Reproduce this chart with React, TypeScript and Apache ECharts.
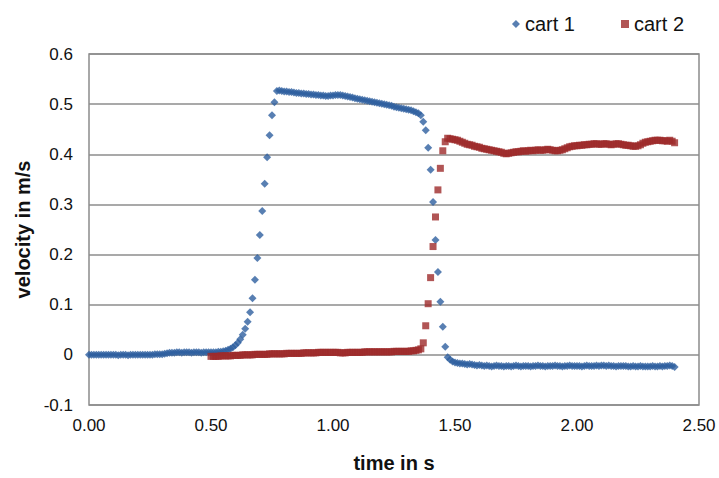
import React, { useEffect, useRef } from "react";
import * as echarts from "echarts";

const sampleStep = 0.01;
const cart1Start = 0.0;
const cart2Start = 0.5;

const cart1Values = [
  0.000, 0.000, 0.000, 0.000, 0.000, 0.000, 0.000, 0.000, 0.000, 0.000,
  0.000, 0.000, -0.001, 0.000, 0.000, 0.000, -0.001, 0.000, 0.000, 0.000,
  0.000, 0.000, 0.000, 0.000, 0.000, 0.000, 0.000, 0.001, 0.001, 0.001,
  0.001, 0.002, 0.003, 0.004, 0.004, 0.004, 0.005, 0.005, 0.004, 0.005,
  0.005, 0.005, 0.004, 0.005, 0.005, 0.005, 0.004, 0.005, 0.005, 0.005,
  0.005, 0.005, 0.005, 0.006, 0.006, 0.007, 0.008, 0.010, 0.012, 0.015,
  0.019, 0.024, 0.031, 0.040, 0.052, 0.066, 0.085, 0.113, 0.150, 0.193,
  0.239, 0.287, 0.341, 0.394, 0.438, 0.478, 0.504, 0.526, 0.527, 0.526,
  0.525, 0.525, 0.524, 0.524, 0.523, 0.522, 0.522, 0.521, 0.521, 0.520,
  0.520, 0.519, 0.519, 0.518, 0.518, 0.517, 0.517, 0.516, 0.516, 0.517,
  0.517, 0.518, 0.518, 0.518, 0.517, 0.516, 0.515, 0.514, 0.513, 0.512,
  0.511, 0.510, 0.509, 0.508, 0.507, 0.506, 0.505, 0.504, 0.503, 0.502,
  0.501, 0.500, 0.499, 0.498, 0.497, 0.495, 0.494, 0.493, 0.492, 0.491,
  0.490, 0.489, 0.488, 0.486, 0.484, 0.482, 0.478, 0.465, 0.448, 0.413,
  0.369, 0.305, 0.229, 0.165, 0.106, 0.056, 0.016, -0.005, -0.010, -0.013,
  -0.015, -0.016, -0.017, -0.017, -0.018, -0.019, -0.018, -0.019, -0.020, -0.021,
  -0.020, -0.021, -0.022, -0.021, -0.022, -0.023, -0.022, -0.021, -0.022, -0.022,
  -0.023, -0.022, -0.022, -0.023, -0.022, -0.021, -0.022, -0.023, -0.022, -0.022,
  -0.022, -0.023, -0.022, -0.022, -0.021, -0.022, -0.022, -0.023, -0.022, -0.022,
  -0.022, -0.021, -0.022, -0.022, -0.023, -0.022, -0.022, -0.021, -0.022, -0.022,
  -0.022, -0.022, -0.023, -0.022, -0.021, -0.022, -0.022, -0.022, -0.021, -0.022,
  -0.021, -0.021, -0.022, -0.021, -0.022, -0.022, -0.023, -0.022, -0.022, -0.022,
  -0.022, -0.023, -0.023, -0.022, -0.023, -0.023, -0.022, -0.023, -0.023, -0.023,
  -0.023, -0.022, -0.023, -0.023, -0.022, -0.023, -0.022, -0.022, -0.021, -0.022,
  -0.024,
];

const cart2Values = [
  -0.003, -0.003, -0.003, -0.003, -0.002, -0.002, -0.002, -0.002, -0.002, -0.001,
  -0.001, -0.001, -0.001, 0.000, 0.000, 0.000, 0.000, 0.000, 0.001, 0.001,
  0.001, 0.001, 0.001, 0.001, 0.002, 0.002, 0.002, 0.002, 0.002, 0.002,
  0.002, 0.003, 0.003, 0.003, 0.003, 0.003, 0.003, 0.003, 0.004, 0.004,
  0.004, 0.004, 0.004, 0.004, 0.005, 0.005, 0.005, 0.005, 0.005, 0.005,
  0.005, 0.005, 0.005, 0.004, 0.004, 0.004, 0.005, 0.005, 0.005, 0.005,
  0.005, 0.005, 0.005, 0.006, 0.006, 0.006, 0.006, 0.006, 0.006, 0.006,
  0.006, 0.006, 0.006, 0.006, 0.006, 0.007, 0.007, 0.007, 0.007, 0.007,
  0.007, 0.007, 0.008, 0.008, 0.009, 0.010, 0.012, 0.024, 0.058, 0.102,
  0.154, 0.216, 0.275, 0.329, 0.372, 0.407, 0.425, 0.432, 0.431, 0.430,
  0.429, 0.428, 0.426, 0.424, 0.422, 0.420, 0.419, 0.418, 0.416, 0.415,
  0.414, 0.412, 0.411, 0.410, 0.409, 0.408, 0.407, 0.406, 0.405, 0.404,
  0.402, 0.401, 0.402, 0.403, 0.404, 0.405, 0.405, 0.406, 0.407, 0.406,
  0.407, 0.408, 0.407, 0.408, 0.409, 0.408, 0.408, 0.409, 0.410, 0.409,
  0.408, 0.407, 0.407, 0.408, 0.409, 0.411, 0.413, 0.415, 0.416, 0.417,
  0.417, 0.418, 0.418, 0.419, 0.419, 0.420, 0.420, 0.421, 0.421, 0.420,
  0.420, 0.421, 0.421, 0.420, 0.419, 0.420, 0.421, 0.421, 0.420, 0.419,
  0.418, 0.418, 0.417, 0.416, 0.416, 0.417, 0.419, 0.422, 0.424, 0.425,
  0.426, 0.427, 0.428, 0.428, 0.428, 0.427, 0.427, 0.426, 0.428, 0.426,
  0.423,
];

const xTickLabels = ["0.00", "0.50", "1.00", "1.50", "2.00", "2.50"];
const yTickLabels = ["-0.1", "0", "0.1", "0.2", "0.3", "0.4", "0.5", "0.6"];

const FONT = "'Liberation Sans', Arial, sans-serif";

function toPairs(start: number, values: number[]) {
  return values.map((v, i) => [Number((start + i * sampleStep).toFixed(2)), v]);
}

export default function App() {
  const ref = useRef<HTMLDivElement>(null);
  useEffect(() => {
    if (!ref.current) return;
    const chart = echarts.init(ref.current, undefined, { renderer: "svg" });
    chart.setOption({
      animation: false,
      backgroundColor: "#ffffff",
      grid: {
        left: 89,
        right: 20,
        top: 54,
        bottom: 70,
        show: true,
        borderColor: "#8c8c8c",
        borderWidth: 1.5,
      },
      legend: {
        top: 9,
        right: 30,
        itemGap: 46,
        itemWidth: 8,
        itemHeight: 8,
        textStyle: { fontSize: 20, color: "#111", fontFamily: FONT },
        data: [
          { name: "cart 1", icon: "diamond" },
          { name: "cart 2", icon: "rect" },
        ],
      },
      xAxis: {
        type: "value",
        min: 0,
        max: 2.5,
        interval: 0.5,
        name: "time in s",
        nameLocation: "middle",
        nameGap: 48,
        nameTextStyle: { fontSize: 20, fontWeight: "bold", color: "#111", fontFamily: FONT },
        axisLine: { show: false },
        axisTick: { show: false },
        splitLine: { show: false },
        axisLabel: {
          fontSize: 17,
          color: "#111",
          fontFamily: FONT,
          margin: 12,
          formatter: (v: number) => xTickLabels[Math.round(v / 0.5)] ?? "",
        },
      },
      yAxis: {
        type: "value",
        min: -0.1,
        max: 0.6,
        interval: 0.1,
        name: "velocity in m/s",
        nameLocation: "middle",
        nameRotate: 90,
        nameGap: 56,
        nameTextStyle: { fontSize: 20, fontWeight: "bold", color: "#111", fontFamily: FONT },
        axisLine: { show: false },
        axisTick: { show: false },
        splitLine: { show: true, lineStyle: { color: "#8c8c8c", width: 1.5 } },
        axisLabel: {
          fontSize: 17,
          color: "#111",
          fontFamily: FONT,
          margin: 16,
          formatter: (v: number) => yTickLabels[Math.round((v + 0.1) / 0.1)] ?? "",
        },
      },
      series: [
        {
          name: "cart 1",
          type: "scatter",
          symbol: "diamond",
          symbolSize: 8,
          itemStyle: { color: "#2e5f9f" },
          data: toPairs(cart1Start, cart1Values),
        },
        {
          name: "cart 2",
          type: "scatter",
          symbol: "rect",
          symbolSize: 7,
          itemStyle: { color: "#9e2a2a" },
          data: toPairs(cart2Start, cart2Values),
        },
      ],
    });
    return () => chart.dispose();
  }, []);
  return (
    <div
      ref={ref}
      style={{ position: "fixed", left: 0, top: 0, width: 719, height: 478, background: "#fff" }}
    />
  );
}
